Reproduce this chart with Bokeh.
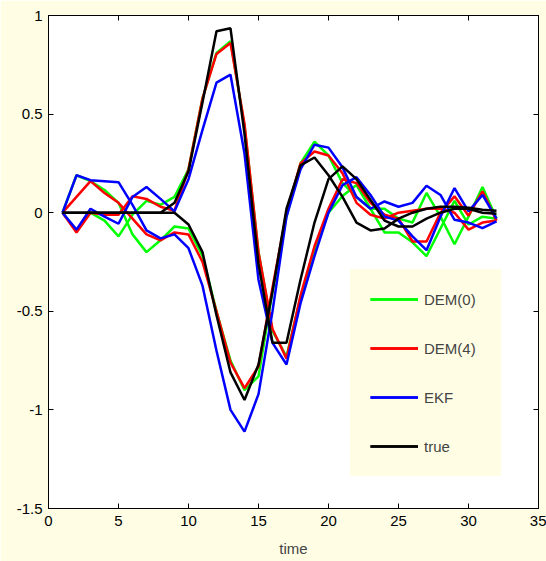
from bokeh.plotting import figure
from bokeh.models import Legend, LegendItem, LinearAxis, FixedTicker
from bokeh.embed import file_html
from bokeh.resources import INLINE

t = list(range(1, 33))

true_1 = [0, 0, 0, 0, 0, 0, 0, 0, 0.05, 0.21, 0.56, 0.92, 0.935, 0.40, -0.26, -0.66, -0.66, -0.34, -0.05, 0.17,
          0.235, 0.17, 0.065, -0.04, -0.07, -0.07, -0.03, 0.0, 0.02, 0.02, 0.0, -0.005]
true_2 = [0, 0, 0, 0, 0, 0, 0, 0, 0, -0.06, -0.20, -0.52, -0.81, -0.95, -0.77, -0.40, 0.02, 0.24, 0.28, 0.19,
          0.08, -0.05, -0.09, -0.08, -0.03, 0.0, 0.02, 0.03, 0.03, 0.025, 0.015, 0.01]

dem0_1 = [0, -0.09, 0.0, -0.04, -0.12, -0.01, 0.06, 0.04, 0.08, 0.22, 0.58, 0.81, 0.87, 0.44, -0.20, -0.60, -0.73,
          -0.43, -0.20, 0.0, 0.085, 0.14, 0.02, -0.10, -0.10, -0.15, -0.22, -0.08, 0.06, -0.06, -0.02, -0.03]
dem0_2 = [0, 0.19, 0.16, 0.115, 0.05, -0.11, -0.20, -0.14, -0.07, -0.08, -0.22, -0.50, -0.75, -0.90, -0.83, -0.40,
          -0.02, 0.25, 0.36, 0.29, 0.15, 0.08, 0.02, 0.02, -0.03, -0.05, 0.10, -0.02, -0.16, -0.02, 0.13, -0.03]

dem4_1 = [0, -0.10, 0.0, -0.01, -0.01, 0.083, 0.07, 0.03, 0.01, 0.22, 0.58, 0.805, 0.86, 0.45, -0.20, -0.59, -0.74,
          -0.42, -0.17, 0.02, 0.17, 0.15, 0.05, -0.01, -0.03, -0.146, -0.146, 0.0, 0.083, -0.015, 0.108, -0.04]
dem4_2 = [0, 0.08, 0.16, 0.10, 0.05, -0.03, -0.11, -0.14, -0.10, -0.11, -0.25, -0.50, -0.76, -0.89, -0.78, -0.38,
          0.0, 0.25, 0.31, 0.29, 0.20, 0.05, -0.01, -0.03, 0.0, 0.01, 0.02, 0.02, 0.0, -0.086, -0.05, -0.04]

ekf_1 = [0, -0.086, 0.02, -0.02, -0.056, 0.08, 0.13, 0.07, 0.007, 0.17, 0.42, 0.66, 0.70, 0.30, -0.34, -0.66, -0.77,
         -0.46, -0.22, 0.0, 0.14, 0.18, 0.09, -0.02, -0.04, -0.12, -0.19, -0.02, 0.125, 0.007, 0.09, -0.03]
ekf_2 = [0, 0.19, 0.165, 0.16, 0.155, 0.04, -0.09, -0.13, -0.11, -0.18, -0.37, -0.70, -1.00, -1.11, -0.92, -0.50,
         -0.02, 0.22, 0.345, 0.33, 0.23, 0.08, 0.02, 0.057, 0.03, 0.05, 0.137, 0.09, -0.036, -0.05, -0.078, -0.044]

x_ticks = [0, 5, 10, 15, 20, 25, 30, 35]
y_ticks = [-1.5, -1, -0.5, 0, 0.5, 1]
y_tick_labels = ["-1.5", "-1", "-0.5", "0", "0.5", "1"]

series = [
    ("DEM(0)", "#00ff00", dem0_1, dem0_2),
    ("DEM(4)", "#ff0000", dem4_1, dem4_2),
    ("EKF", "#0000ff", ekf_1, ekf_2),
    ("true", "#000000", true_1, true_2),
]

YELLOW = "#fffee5"
FONT = "Liberation Sans"

p = figure(width=546, height=561, x_range=(0, 35), y_range=(-1.5, 1),
           output_backend="svg", toolbar_location=None,
           background_fill_color="white", border_fill_color=YELLOW,
           min_border_left=48, min_border_right=8, min_border_top=15, min_border_bottom=53)
p.grid.visible = False
p.outline_line_color = "black"
p.outline_line_width = 1

items = []
for name, color, s1, s2 in series:
    r1 = p.line(t, s1, line_color=color, line_width=2.5)
    r2 = p.line(t, s2, line_color=color, line_width=2.5)
    items.append(LegendItem(label=name, renderers=[r1, r2]))

for ax in (p.xaxis[0], p.yaxis[0]):
    ax.major_tick_in = 5
    ax.major_tick_out = 0
    ax.minor_tick_line_color = None
    ax.axis_line_color = "black"
    ax.major_tick_line_color = "black"
    ax.major_label_text_font = FONT
    ax.major_label_text_font_size = "15px"
    ax.major_label_text_color = "black"

p.xaxis[0].ticker = FixedTicker(ticks=x_ticks)
p.yaxis[0].ticker = FixedTicker(ticks=y_ticks)
p.yaxis[0].major_label_overrides = {v: s for v, s in zip(y_ticks, y_tick_labels)}
p.xaxis[0].major_label_standoff = 7
p.yaxis[0].major_label_standoff = 6
p.xaxis[0].axis_label = "time"
p.xaxis[0].axis_label_text_font = FONT
p.xaxis[0].axis_label_text_font_size = "15px"
p.xaxis[0].axis_label_text_font_style = "normal"
p.xaxis[0].axis_label_standoff = 11

top = LinearAxis(ticker=FixedTicker(ticks=x_ticks), major_label_text_font_size="0px",
                 major_tick_in=5, major_tick_out=0, minor_tick_line_color=None, major_label_standoff=0)
right = LinearAxis(ticker=FixedTicker(ticks=y_ticks), major_label_text_font_size="0px",
                   major_tick_in=5, major_tick_out=0, minor_tick_line_color=None, major_label_standoff=0)
p.add_layout(top, "above")
p.add_layout(right, "right")

legend = Legend(items=items, location=(302, 32))
legend.background_fill_color = YELLOW
legend.background_fill_alpha = 1
legend.border_line_color = YELLOW
legend.border_line_width = 20
legend.border_line_join = "miter"
legend.label_text_font = FONT
legend.label_text_font_size = "15px"
legend.glyph_width = 48
legend.glyph_height = 20
legend.label_height = 20
legend.label_width = 57
legend.spacing = 29
legend.padding = 0
legend.label_standoff = 6
legend.margin = 0
p.add_layout(legend)

open("out.html", "w").write(file_html(p, INLINE))
